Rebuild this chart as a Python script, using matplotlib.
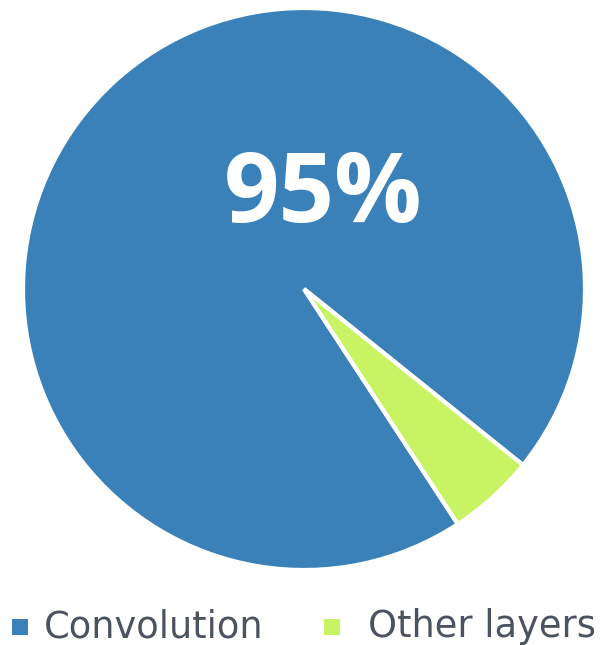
import matplotlib
matplotlib.use("Agg")
import matplotlib.pyplot as plt
from matplotlib.patches import Rectangle

labels = ["Convolution", "Other layers"]
values = [95, 5]
colors = ["#3a81b9", "#c8f464"]
center_label = "95%"

W, H = 600, 645
fig = plt.figure(figsize=(W / 100, H / 100), dpi=100)
ax = fig.add_axes([23 / W, 75 / H, 562 / W, 562 / H])
wedges, _ = ax.pie(values, colors=colors, startangle=-38.8, counterclock=True,
                   wedgeprops=dict(edgecolor="white", linewidth=3))
ax.set_xlim(-1.0, 1.0)
ax.set_ylim(-1.0, 1.0)
ax.set_aspect("equal")
ax.axis("off")

ax.text(0.068, 0.238, center_label, color="white", fontsize=70, fontweight="bold",
        ha="center", va="baseline", family=["Open Sans", "DejaVu Sans"])

# legend
sq_x = [12, 324]
txt_x = [44, 368]
for c, lab, sx, tx in zip(colors, labels, sq_x, txt_x):
    fig.patches.append(Rectangle((sx / W, (H - 635) / H), 16 / W, 16 / H,
                                 transform=fig.transFigure, facecolor=c,
                                 edgecolor="none"))
    fig.text(tx / W, (H - 637) / H, lab, fontsize=26.5, color="#4b5361",
             ha="left", va="baseline", family=["DejaVu Sans"])

fig.savefig("out.png", dpi=100, facecolor="white")
